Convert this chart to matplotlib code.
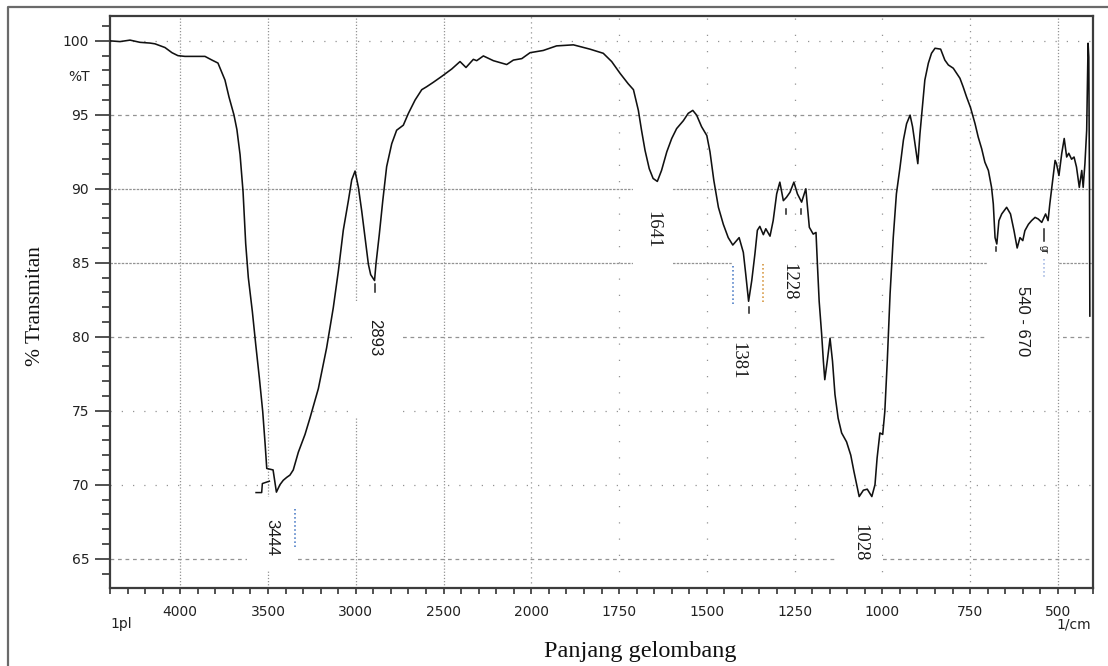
import numpy as np
import matplotlib
matplotlib.use("Agg")
import matplotlib.pyplot as plt
from matplotlib.patches import Rectangle
from matplotlib.lines import Line2D

# ---------------- data ----------------
wavenumber = [4400, 4343, 4286, 4229, 4172, 4144, 4087, 4047, 4013, 3973,
              3916, 3859, 3819, 3785, 3745, 3722, 3694, 3677, 3659, 3642,
              3627, 3612, 3589, 3570, 3549, 3530, 3516, 3507, 3471, 3452,
              3444, 3432, 3413, 3393, 3375, 3356, 3327, 3289, 3261, 3213,
              3166, 3128, 3099, 3071, 3042, 3023, 3004, 2985, 2966, 2947,
              2928, 2915, 2893, 2885, 2866, 2846, 2824, 2795, 2767, 2729,
              2700, 2662, 2624, 2596, 2558, 2510, 2453, 2406, 2372, 2330,
              2311, 2273, 2216, 2140, 2102, 2054, 2007, 1966, 1928, 1880,
              1833, 1795, 1771, 1747, 1724, 1709, 1695, 1686, 1676, 1664,
              1653, 1641, 1629, 1614, 1600, 1586, 1567, 1553, 1540, 1529,
              1515, 1500, 1491, 1480, 1467, 1453, 1439, 1426, 1415, 1408,
              1396, 1389, 1381, 1372, 1363, 1356, 1349, 1339, 1332, 1320,
              1311, 1301, 1292, 1282, 1273, 1263, 1252, 1242, 1230, 1218,
              1208, 1197, 1189, 1185, 1180, 1173, 1168, 1164, 1157, 1149,
              1142, 1135, 1126, 1116, 1102, 1090, 1081, 1073, 1066, 1054,
              1043, 1030, 1021, 1015, 1007, 999, 993, 986, 978, 969,
              960, 950, 940, 931, 921, 914, 907, 899, 893, 885,
              879, 869, 860, 850, 834, 822, 812, 798, 779, 770,
              760, 749, 736, 727, 717, 708, 698, 689, 684, 679,
              674, 668, 660, 646, 635, 625, 616, 608, 600, 594,
              584, 575, 565, 556, 546, 535, 528, 523, 515, 508,
              504, 497, 489, 482, 475, 469, 461, 454, 447, 439,
              432, 428, 423, 418, 414, 412, 410, 409]

transmittance = [100.0, 99.95, 100.05, 99.9, 99.85, 99.8, 99.55, 99.2, 99.0, 98.95,
                 98.95, 98.95, 98.7, 98.5, 97.35, 96.2, 95.0, 94.0, 92.3, 89.8,
                 86.3, 84.0, 81.7, 79.5, 77.2, 74.95, 72.7, 71.1, 71.0, 69.5,
                 69.7, 70.0, 70.3, 70.5, 70.65, 71.0, 72.2, 73.4, 74.5, 76.5,
                 79.25, 81.96, 84.45, 87.2, 89.2, 90.6, 91.2, 90.1, 88.5, 86.7,
                 84.9, 84.2, 83.8, 84.9, 86.9, 89.2, 91.5, 93.05, 93.96, 94.3,
                 95.1, 96.0, 96.7, 96.9, 97.2, 97.6, 98.1, 98.6, 98.2, 98.75,
                 98.66, 98.98, 98.66, 98.4, 98.7, 98.8, 99.2, 99.35, 99.66, 99.73,
                 99.44, 99.16, 98.6, 97.8, 97.1, 96.7, 95.3, 93.96, 92.6, 91.36,
                 90.7, 90.5, 91.24, 92.5, 93.4, 94.07, 94.6, 95.1, 95.3, 94.98,
                 94.2, 93.6, 92.5, 90.56, 88.75, 87.6, 86.7, 86.2, 86.5, 86.7,
                 85.7, 84.2, 82.4, 83.8, 85.6, 87.2, 87.46, 86.9, 87.3, 86.8,
                 87.85, 89.66, 90.45, 89.2, 89.43, 89.77, 90.45, 89.66, 89.1, 90.0,
                 87.4, 86.94, 87.05, 84.9, 82.4, 80.2, 78.35, 77.1, 78.35, 79.9,
                 78.35, 76.1, 74.5, 73.5, 72.9, 72.0, 70.9, 70.0, 69.2, 69.63,
                 69.7, 69.2, 70.0, 71.8, 73.5, 73.4, 74.95, 78.35, 82.9, 86.7,
                 89.66, 91.4, 93.3, 94.4, 94.98, 94.2, 93.05, 91.7, 93.7, 95.77,
                 97.35, 98.49, 99.16, 99.5, 99.44, 98.7, 98.37, 98.15, 97.47, 96.9,
                 96.2, 95.5, 94.4, 93.5, 92.7, 91.8, 91.24, 90.1, 88.98, 86.7,
                 86.27, 87.85, 88.3, 88.75, 88.3, 87.17, 86.0, 86.7, 86.5, 87.17,
                 87.6, 87.85, 88.07, 87.96, 87.73, 88.3, 87.85, 88.98, 90.56, 91.92,
                 91.7, 90.9, 92.4, 93.4, 92.15, 92.4, 92.0, 92.15, 91.47, 90.1,
                 91.24, 90.1, 91.7, 93.96, 99.84, 98.9, 90.0, 81.4]

# small step drawn by the instrument near the 3444 band
step_wn = [3568, 3536, 3532, 3492]
step_t = [69.47, 69.47, 70.08, 70.24]

peak_labels = ["3444", "2893", "1641", "1381", "1228", "1028", "540 - 670"]
label_wn = [3477, 2890, 1653, 1411, 1266, 1064, 602]
label_t = [66.46, 79.97, 87.24, 78.4, 83.74, 66.08, 81.06]

x_major = [4000, 3500, 3000, 2500, 2000, 1750, 1500, 1250, 1000, 750, 500]
y_major = [65, 70, 75, 80, 85, 90, 95, 100]

assert len(wavenumber) == len(transmittance)

# ---------------- piecewise wavenumber scale ----------------
def fwd(x):
    x = np.asarray(x, dtype=float)
    return np.where(x >= 2000, x / 500.0, 4.0 + (x - 2000.0) / 250.0)

def inv(u):
    u = np.asarray(u, dtype=float)
    return np.where(u >= 4.0, u * 500.0, 2000.0 + (u - 4.0) * 250.0)

W, H = 1108, 666
fig = plt.figure(figsize=(W / 100, H / 100), dpi=100)
fig.patch.set_facecolor("white")

# outer frame (left and top edges visible)
fig.add_artist(Line2D([8 / W, 8 / W, 1.0], [0.0, 1 - 7 / H, 1 - 7 / H],
                      transform=fig.transFigure, color="#6a6a6a", lw=1.6))

ax = fig.add_axes([110 / W, 1 - 588.3 / H, (1093 - 110) / W, (588.3 - 15.7) / H])
ax.set_xscale("function", functions=(fwd, inv))
ax.set_xlim(4400, 400)
ax.set_ylim(63, 101.7)

# grid lines with the look of the instrument printout
hstyles = {100: (0, (1, 8)), 95: (0, (3, 3)), 90: (0, (2, 1)), 85: (0, (2, 1)),
           80: (0, (3, 3)), 75: (0, (1, 8)), 70: (0, (1, 8)), 65: (0, (3, 3))}
vstyles = {4000: (0, (1, 1.5)), 3500: (0, (1, 1.5)), 3000: (0, (1, 1.5)),
           2500: (0, (1, 1.5)), 2000: (0, (1, 3)), 1750: (0, (1, 12)),
           1500: (0, (1, 12)), 1250: (0, (1, 12)), 1000: (0, (1, 12)),
           750: (0, (1, 4)), 500: (0, (1, 1.5))}
for yv in y_major:
    ax.axhline(yv, color="#939393", lw=0.9, ls=hstyles[yv], zorder=1)
for xv in x_major:
    ax.axvline(xv, color="#939393", lw=0.9, ls=vstyles[xv], zorder=1)

# label boxes that interrupt the grid
gaps = [(3620, 3346, 64.2, 69.2), (3021, 2742, 74.6, 82.4), (1711, 1600, 84.6, 90.56),
        (1428, 1207, 82.4, 85.5), (1127, 1000, 64.2, 68.8), (702, 500, 78.3, 85.5),
        (958, 859, 89.5, 90.56)]
for x0, x1, y0, y1 in gaps:
    ax.add_patch(Rectangle((x0, y0), x1 - x0, y1 - y0, facecolor="white",
                           edgecolor="none", zorder=2))

# spectrum
ax.plot(wavenumber, transmittance, color="#111111", lw=1.15, zorder=4)
ax.plot(step_wn, step_t, color="#111111", lw=1.1, zorder=4)

# peak labels
sans = ["Liberation Sans", "DejaVu Sans"]
serif = ["Liberation Serif", "DejaVu Serif"]
label_fonts = [sans, sans, serif, serif, serif, serif, sans]
label_sizes = [12, 12, 13.5, 13.5, 13.5, 13.5, 12]
for txt, xw, yt, fam, fs in zip(peak_labels, label_wn, label_t, label_fonts, label_sizes):
    ax.text(xw, yt, txt, rotation=270, ha="center", va="center",
            family=fam, fontsize=fs, color="#1a1a1a", zorder=5)

# small peak marks / leftover marker fragments
marks = [([2893, 2893], [83.57, 83.03], "#222222", "-"),
         ([1381, 1381], [82.0, 81.6], "#222222", "-"),
         ([675, 675], [86.08, 85.8], "#222222", "-"),
         ([1275, 1275], [88.66, 88.32], "#222222", "-"),
         ([1232, 1232], [88.66, 88.32], "#222222", "-"),
         ([540, 540], [87.3, 86.49], "#222222", "-"),
         ([3346, 3346], [68.36, 65.78], "#3a6fc0", ":"),
         ([1426, 1426], [84.8, 82.08], "#3a6fc0", ":"),
         ([1339, 1339], [84.93, 82.2], "#d08a2a", ":"),
         ([540, 540], [85.27, 83.98], "#9ab0e0", ":")]
for xs, ys, c, ls in marks:
    ax.plot(xs, ys, color=c, lw=1.1, ls=ls, zorder=4)
ax.text(540, 85.9, "gr", rotation=270, ha="center", va="center",
        family=sans, fontsize=7, color="#222222", zorder=5)

# ticks
minor_x = [v for v in list(range(4400, 2000, -100)) + list(range(2000, 399, -50))
           if v not in x_major]
ax.set_xticks(x_major)
ax.set_xticks(minor_x, minor=True)
ax.set_yticks(y_major)
ax.set_yticks([v for v in range(64, 102) if v not in y_major], minor=True)
ax.set_xticklabels([str(v) for v in x_major])
ax.set_yticklabels([str(v) for v in y_major])
ax.tick_params(axis="x", which="both", direction="out", length=4, width=1.2,
               color="#333333", pad=8, labelsize=10, labelcolor="#222222")
ax.tick_params(axis="y", which="major", direction="out", length=11, width=1.2,
               color="#333333", pad=4, labelsize=10, labelcolor="#222222")
ax.tick_params(axis="y", which="minor", direction="out", length=6, width=1.2,
               color="#333333")
for lab in ax.get_xticklabels() + ax.get_yticklabels():
    lab.set_family("DejaVu Sans")

for sp in ax.spines.values():
    sp.set_color("#3c3c3c")
    sp.set_linewidth(1.6)

# axis captions
fig.text(90 / W, 1 - 77 / H, "%T", ha="right", va="center", fontsize=10,
         family="DejaVu Sans", color="#222222")
fig.text(110 / W, 1 - 624 / H, "1pl", ha="left", va="center", fontsize=10,
         family="DejaVu Sans", color="#222222")
fig.text(1091 / W, 1 - 625 / H, "1/cm", ha="right", va="center", fontsize=10,
         family="DejaVu Sans", color="#222222")
fig.text(35 / W, 1 - 306 / H, "% Transmitan", rotation=90, ha="center",
         va="center", fontsize=15.5, family=serif, color="#111111")
fig.text(640 / W, 1 - 651 / H, "Panjang gelombang", ha="center", va="center",
         fontsize=17.5, family=serif, color="#111111")

fig.savefig("out.png", dpi=100, facecolor="white")
